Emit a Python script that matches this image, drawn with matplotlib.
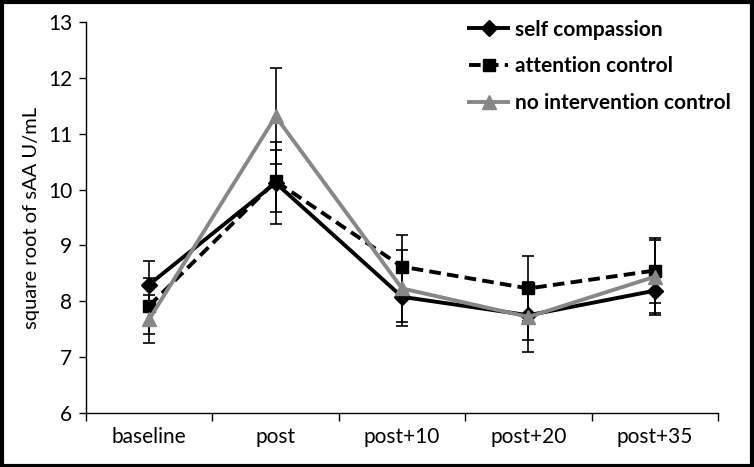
import matplotlib
matplotlib.use("Agg")
import matplotlib.pyplot as plt
from matplotlib.patches import Rectangle
import numpy as np

categories = ["baseline", "post", "post+10", "post+20", "post+35"]
self_comp = [8.30, 10.12, 8.08, 7.75, 8.19]
self_err = [0.42, 0.74, 0.45, 0.45, 0.43]
attention = [7.92, 10.15, 8.62, 8.23, 8.55]
attention_err = [0.50, 0.55, 0.57, 0.58, 0.58]
no_interv = [7.68, 11.31, 8.23, 7.72, 8.44]
no_interv_err = [0.43, 0.86, 0.68, 0.62, 0.65]

plt.rcParams['font.family'] = ['Lato', 'DejaVu Sans']

fig = plt.figure(figsize=(7.54, 4.67), dpi=100)
ax = fig.add_axes([86/754, 1-413/467, (718-86)/754, (413-22)/467])

x = np.arange(len(categories))
ekw = dict(ecolor='black', elinewidth=1.2, capsize=4, capthick=1.2)

ax.errorbar(x, self_comp, yerr=self_err, fmt='none', zorder=2, **ekw)
ax.errorbar(x, attention, yerr=attention_err, fmt='none', zorder=2, **ekw)
ax.errorbar(x, no_interv, yerr=no_interv_err, fmt='none', zorder=2, **ekw)

ax.plot(x, self_comp, color='black', lw=2.8, marker='D', ms=8, label='self compassion', zorder=3)
ax.plot(x, attention, color='black', lw=2.8, ls=(0, (3, 1.6)), marker='s', ms=9, label='attention control', zorder=3)
ax.plot(x, no_interv, color='#878787', lw=2.8, marker='^', ms=10, label='no intervention control', zorder=4)

ax.set_xlim(-0.5, 4.5)
ax.set_ylim(6, 13)
ax.set_yticks(range(6, 14))
ax.tick_params(axis='y', labelsize=15, direction='out', length=5, width=1, pad=5)
ax.set_xticks(np.arange(-0.5, 5, 1))
ax.set_xticklabels([])
ax.set_xticks(x, minor=True)
ax.set_xticklabels(categories, minor=True)
ax.tick_params(axis='x', which='major', direction='out', length=6, width=1)
ax.tick_params(axis='x', which='minor', length=0, labelsize=15, pad=10)
for s in ['top', 'right']:
    ax.spines[s].set_visible(False)
for s in ['left', 'bottom']:
    ax.spines[s].set_linewidth(1)
ax.set_ylabel('square root of sAA U/mL', fontsize=14.5, labelpad=6)

leg = ax.legend(loc='upper left', bbox_to_anchor=(450/754, 1-1/467), bbox_transform=fig.transFigure,
                frameon=False, prop={'weight': 'bold', 'size': 15}, handlelength=1.9,
                handletextpad=0.3, labelspacing=0.8)

fig.patches.append(Rectangle((0.002, 0.003), 0.995, 0.993, transform=fig.transFigure,
                             fill=False, edgecolor='black', linewidth=3))

fig.savefig('out.png', dpi=100)
